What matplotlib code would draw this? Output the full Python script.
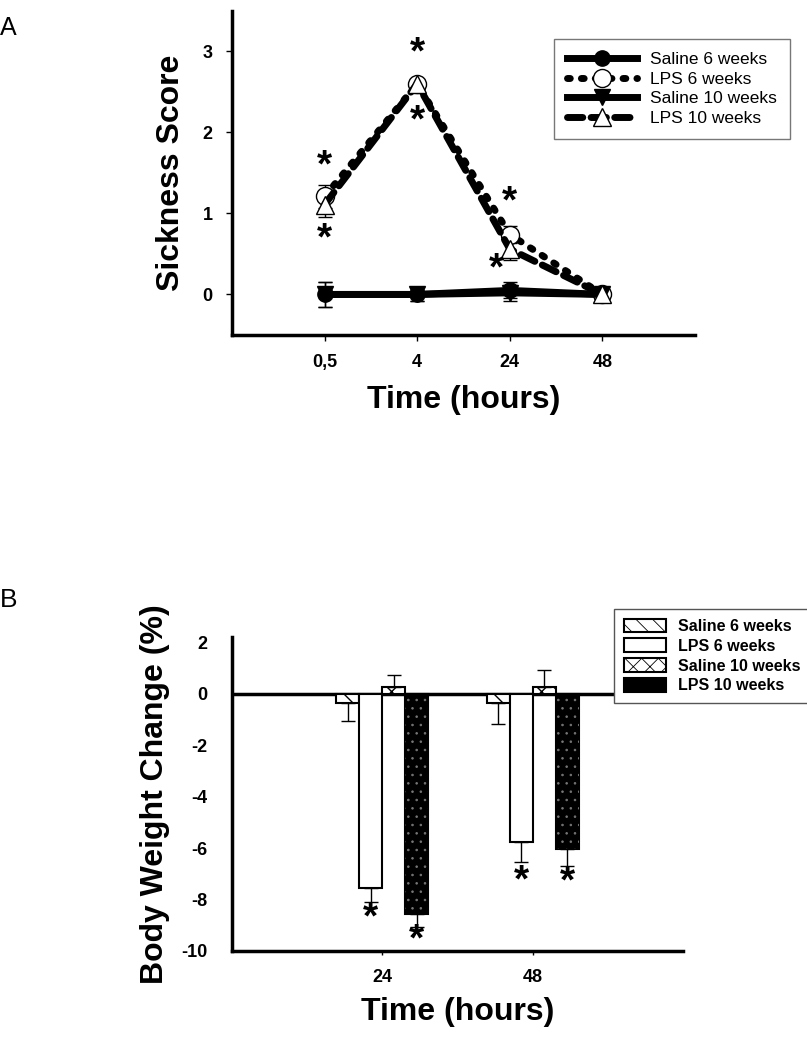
import numpy as np
import matplotlib.pyplot as plt

plt.rcParams['font.family'] = ['Liberation Sans', 'DejaVu Sans']
plt.rcParams['axes.unicode_minus'] = False
plt.rcParams['hatch.linewidth'] = 1.0

# %% panel A data ------------------------------------------------------------
time_labels = ['0,5', '4', '24', '48']
saline6 = [0.0, 0.0, 0.05, 0.0]
saline6_err = [0.15, 0.08, 0.1, 0.02]
lps6 = [1.21, 2.6, 0.74, 0.0]
lps6_err = [0.14, 0.06, 0.1, 0.02]
saline10 = [0.0, 0.0, 0.02, 0.0]
saline10_err = [0.15, 0.08, 0.1, 0.02]
lps10 = [1.11, 2.6, 0.56, 0.0]
lps10_err = [0.15, 0.06, 0.13, 0.02]
# asterisk positions (category index offset, y)
starsA_x = [0, 0, 1, 1, 2, 1.86]
starsA_y = [1.58, 0.68, 2.98, 2.14, 1.14, 0.31]

# %% panel B data ------------------------------------------------------------
bw_labels = ['24', '48']
bw_saline6 = [-0.35, -0.35]
bw_saline6_err = [0.7, 0.84]
bw_lps6 = [-7.54, -5.77]
bw_lps6_err = [0.57, 0.77]
bw_saline10 = [0.27, 0.27]
bw_saline10_err = [0.46, 0.65]
bw_lps10 = [-8.58, -6.04]
bw_lps10_err = [0.5, 0.65]
starsB_x = [0, 0, 1, 1]   # group index
starsB_k = [1, 3, 1, 3]   # bar index within group
starsB_y = [-8.75, -9.6, -7.3, -7.35]

fig = plt.figure(figsize=(8.07, 10.5), dpi=100)

# %% panel A -----------------------------------------------------------------
axA = fig.add_axes([0.2875, 0.681, 0.5737, 0.3086])
x = np.arange(len(time_labels))
ekw = dict(fmt='none', ecolor='black', elinewidth=1, capsize=5, capthick=1)
for yv, ye in [(saline6, saline6_err), (lps6, lps6_err),
               (saline10, saline10_err), (lps10, lps10_err)]:
    axA.errorbar(x, yv, yerr=ye, **ekw)
axA.plot(x, saline6, color='black', lw=5, marker='o', ms=11,
         mfc='black', mec='black', label='Saline 6 weeks')
axA.plot(x, lps6, color='black', lw=5, ls=(0, (0.4, 1.6)),
         dash_capstyle='round', marker='o', ms=13, mfc='white', mec='black',
         mew=1, label='LPS 6 weeks')
axA.plot(x, saline10, color='black', lw=5, marker='v', ms=11,
         mfc='black', mec='black', label='Saline 10 weeks')
axA.plot(x, lps10, color='black', lw=5, ls=(0, (2.2, 1.2)),
         dash_capstyle='round', marker='^', ms=13, mfc='white', mec='black',
         mew=1, label='LPS 10 weeks')
for sx, sy in zip(starsA_x, starsA_y):
    axA.text(sx, sy, '*', ha='center', va='center', fontsize=28, fontweight='bold')

axA.set_xlim(-1, 4)
axA.set_ylim(-0.5, 3.5)
axA.set_xticks(x)
axA.set_xticklabels(time_labels)
axA.set_yticks([0, 1, 2, 3])
for s in ['top', 'right']:
    axA.spines[s].set_visible(False)
for s in ['left', 'bottom']:
    axA.spines[s].set_linewidth(2.5)
axA.tick_params(length=4, width=1, labelsize=13, pad=10)
for lab in axA.get_xticklabels() + axA.get_yticklabels():
    lab.set_fontweight('bold')
axA.set_xlabel('Time (hours)', fontsize=23, fontweight='bold', labelpad=10)
axA.set_ylabel('Sickness Score', fontsize=23, fontweight='bold', labelpad=12)
legA = axA.legend(loc='upper left', bbox_to_anchor=(0.677, 0.94), fontsize=12.5,
                  handlelength=4.0, frameon=True, fancybox=False, edgecolor='#555555',
                  borderpad=0.75, labelspacing=0.25, handletextpad=0.8)
legA.get_frame().set_linewidth(1)
fig.text(0.0, 0.985, 'A', fontsize=18, va='top')

# %% panel B -----------------------------------------------------------------
axB = fig.add_axes([0.2875, 0.0943, 0.559, 0.299])
g = np.arange(len(bw_labels))
w = 0.153
axB.axhline(0, color='black', lw=2.5, zorder=1)
bkw = dict(capsize=5, error_kw=dict(elinewidth=1, capthick=1, ecolor='black'),
           edgecolor='black', linewidth=1.5, zorder=2)
axB.bar(g - 1.5 * w, bw_saline6, w, yerr=[bw_saline6_err, [0, 0]], facecolor='white',
        hatch='\\\\', label='Saline 6 weeks', **bkw)
axB.bar(g - 0.5 * w, bw_lps6, w, yerr=[bw_lps6_err, [0, 0]], facecolor='white',
        label='LPS 6 weeks', **bkw)
axB.bar(g + 0.5 * w, bw_saline10, w, yerr=[[0, 0], bw_saline10_err], facecolor='white',
        hatch='xx', label='Saline 10 weeks', **bkw)
axB.bar(g + 1.5 * w, bw_lps10, w, yerr=[bw_lps10_err, [0, 0]], facecolor='black',
        label='LPS 10 weeks', **bkw)
plt.rcParams['hatch.linewidth'] = 0.6
axB.bar(g + 1.5 * w, bw_lps10, w, facecolor='none', edgecolor='#777777', hatch='..',
        linewidth=0, zorder=3)
for gx, k, sy in zip(starsB_x, starsB_k, starsB_y):
    axB.text(gx + (k - 1.5) * w, sy, '*', ha='center', va='center', fontsize=28,
             fontweight='bold')

axB.set_xlim(-1, 2)
axB.set_ylim(-10, 2.2)
axB.set_xticks(g)
axB.set_xticklabels(bw_labels)
axB.set_yticks([2, 0, -2, -4, -6, -8, -10])
for s in ['top', 'right']:
    axB.spines[s].set_visible(False)
for s in ['left', 'bottom']:
    axB.spines[s].set_linewidth(2.5)
axB.tick_params(axis='x', length=3, width=1, labelsize=13, pad=10)
axB.tick_params(axis='y', length=0, labelsize=13, pad=18)
for lab in axB.get_xticklabels() + axB.get_yticklabels():
    lab.set_fontweight('bold')
axB.set_xlabel('Time (hours)', fontsize=23, fontweight='bold', labelpad=8)
axB.set_ylabel('Body Weight Change (%)', fontsize=23, fontweight='bold', labelpad=8)
legB = axB.legend(loc='upper left', bbox_to_anchor=(0.83, 1.115),
                  prop=dict(size=11.5, weight='bold'), handlelength=2.6, handleheight=0.9,
                  frameon=True, fancybox=False, edgecolor='#555555', framealpha=1,
                  borderpad=0.6, labelspacing=0.3)
legB.get_frame().set_linewidth(1)
legB.set_zorder(5)
fig.text(0.0, 0.44, 'B', fontsize=19, va='top')

plt.savefig('out.png', dpi=100)
